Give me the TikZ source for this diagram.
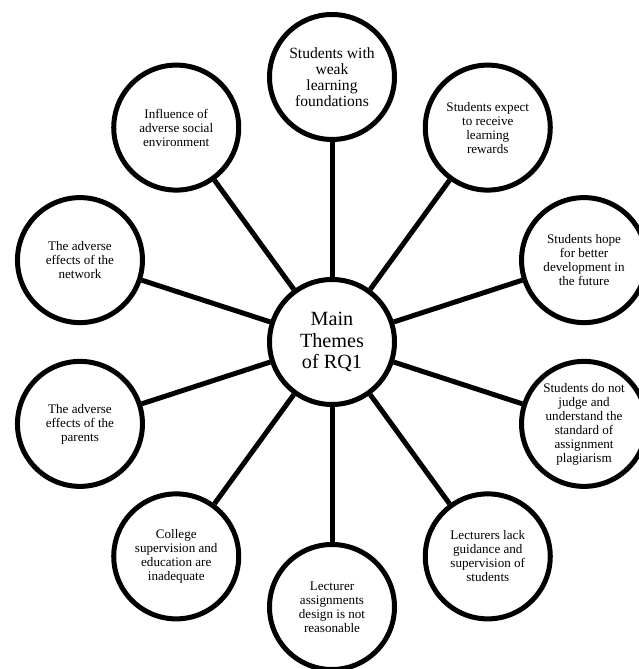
\documentclass[tikz,border=0pt]{standalone}
\usepackage{fontspec}
\setmainfont{Liberation Serif}
\usetikzlibrary{calc}
\begin{document}
\begin{tikzpicture}[x=1pt,y=1pt,
  theme/.style={circle,draw=black,line width=5pt,fill=white,minimum size=125pt,inner sep=0pt,align=center,
    font=\fontsize{13.1}{14}\selectfont},
  bigtheme/.style={theme,font=\fontsize{15.6}{16.2}\selectfont},
  hub/.style={theme,font=\fontsize{20.2}{21.5}\selectfont},
  link/.style={line width=5pt,draw=black}]
\useasboundingbox (0,0) rectangle (639,669);
\clip (0,0) rectangle (639,669);
\coordinate (C) at (332,327);
\node[hub] (main) at (C) {Main\\Themes\\of RQ1};
\node[bigtheme] (n1) at ($(C)+(90:265)$) {Students with\\weak\\learning\\foundations};
\node[theme] (n2) at ($(C)+(54:265)$) {Students expect\\to receive\\learning\\rewards};
\node[theme] (n3) at ($(C)+(18:265)$) {Students hope\\for better\\development in\\the future};
\node[theme] (n4) at ($(C)+(-18:265)$) {Students do not\\judge and\\understand the\\standard of\\assignment\\plagiarism};
\node[theme] (n5) at ($(C)+(-54:265)$) {Lecturers lack\\guidance and\\supervision of\\students};
\node[theme] (n6) at ($(C)+(-90:265)$) {Lecturer\\assignments\\design is not\\reasonable};
\node[theme] (n7) at ($(C)+(-126:265)$) {College\\supervision and\\education are\\inadequate};
\node[theme] (n8) at ($(C)+(-162:265)$) {The adverse\\effects of the\\parents};
\node[theme] (n9) at ($(C)+(162:265)$) {The adverse\\effects of the\\network};
\node[theme] (n10) at ($(C)+(126:265)$) {Influence of\\adverse social\\environment};
\foreach \i in {1,...,10} {\draw[link] (main) -- (n\i);}
\end{tikzpicture}
\end{document}
